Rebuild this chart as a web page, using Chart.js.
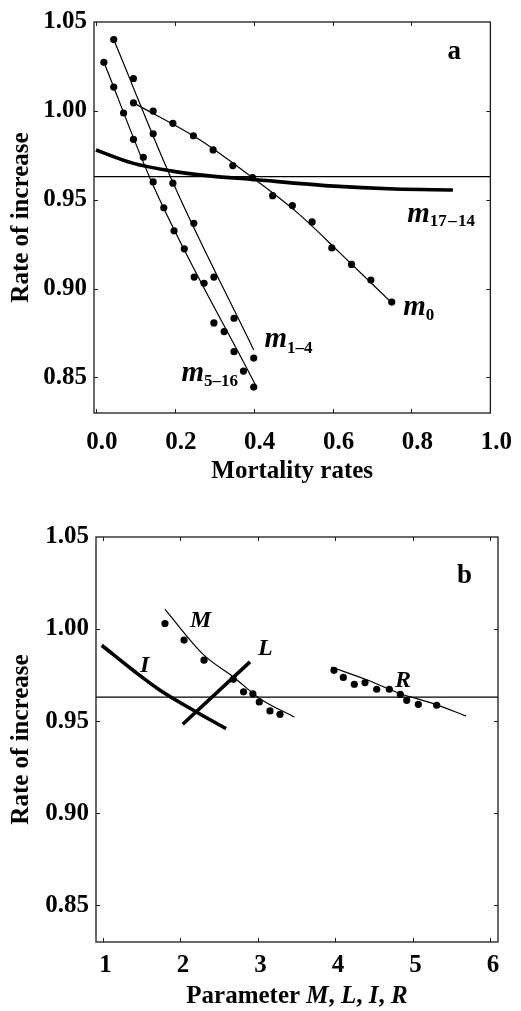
<!DOCTYPE html>
<html>
<head>
<meta charset="utf-8">
<script src="https://cdn.jsdelivr.net/npm/chart.js@4.4.0/dist/chart.umd.min.js"></script>
<style>
  body { margin: 0; background: #fff; }
  canvas { position: absolute; left: 0; }
  #chartA { top: 0; }
  #chartB { top: 490px; }
</style>
</head>
<body>
<canvas id="chartA" width="521" height="490"></canvas>
<canvas id="chartB" width="521" height="521"></canvas>
<script>
// Shared y axis
const rateTicks = [0.85, 0.90, 0.95, 1.00, 1.05];
const threshold = 0.963;

// Panel a: rate of increase vs mortality rates
const mortTicks = [0, 0.2, 0.4, 0.6, 0.8, 1.0];

const m516X = [0.020, 0.045, 0.070, 0.095, 0.120, 0.145, 0.172, 0.198, 0.224, 0.249, 0.274, 0.299, 0.325, 0.350, 0.374, 0.400];
const m516Y = [1.0273, 1.0134, 0.9988, 0.9840, 0.9739, 0.9600, 0.9455, 0.9325, 0.9224, 0.9065, 0.9030, 0.8807, 0.8758, 0.8645, 0.8536, 0.8446];
const m516FitX = [0.020, 0.1465, 0.405];
const m516FitY = [1.0275, 0.9573, 0.8455];

const m14X = [0.045, 0.095, 0.145, 0.195, 0.248, 0.299, 0.350, 0.400];
const m14Y = [1.0401, 1.0182, 0.9871, 0.9593, 0.9367, 0.9065, 0.8833, 0.8609];
const m14FitX = [0.045, 0.200, 0.400];
const m14FitY = [1.0401, 0.9573, 0.8655];

const m0X = [0.095, 0.145, 0.195, 0.247, 0.297, 0.347, 0.397, 0.448, 0.498, 0.548, 0.598, 0.648, 0.697, 0.750];
const m0Y = [1.0045, 0.9999, 0.9930, 0.9860, 0.9780, 0.9692, 0.9624, 0.9523, 0.9467, 0.9375, 0.9229, 0.9136, 0.9048, 0.8924];
const m0FitX = [0.095, 0.259, 0.397, 0.509, 0.617, 0.750];
const m0FitY = [1.0045, 0.9843, 0.9624, 0.9430, 0.9204, 0.8920];

const m1714X = [0, 0.093, 0.193, 0.293, 0.392, 0.592, 0.758, 0.905];
const m1714Y = [0.978, 0.9706, 0.9661, 0.9633, 0.9615, 0.9578, 0.9560, 0.9555];

// Panel b: rate of increase vs parameters M, L, I, R
const paramTicks = [1, 2, 3, 4, 5, 6];

const mX = [1.806, 2.052, 2.310, 2.688, 2.820, 2.940, 3.023, 3.161, 3.290];
const mY = [1.0030, 0.9940, 0.9831, 0.9727, 0.9659, 0.9648, 0.9604, 0.9555, 0.9537];
const mFitX = [1.806, 2.310, 2.688, 3.032, 3.475];
const mFitY = [1.0107, 0.9858, 0.9740, 0.9622, 0.9522];

const rX = [3.987, 4.107, 4.249, 4.387, 4.538, 4.701, 4.843, 4.925, 5.075, 5.312];
const rY = [0.9776, 0.9737, 0.9700, 0.9709, 0.9673, 0.9673, 0.9645, 0.9613, 0.9591, 0.9586];
const rFitX = [3.95, 4.40, 4.839, 5.268, 5.69];
const rFitY = [0.9794, 0.9726, 0.9650, 0.9595, 0.9528];

const iX = [0.99, 1.419, 1.742, 2.172, 2.594];
const iY = [0.9912, 0.9768, 0.9668, 0.9559, 0.9459];

const lX = [2.035, 2.903];
const lY = [0.9483, 0.9822];

const FAMILY = '"Liberation Serif", "Times New Roman", serif';
const B = n => `bold ${n}px ${FAMILY}`;
const BI = n => `italic bold ${n}px ${FAMILY}`;

const pts = (xs, ys) => xs.map((x, i) => ({ x, y: ys[i] }));

function dots(xs, ys) {
  return {
    data: pts(xs, ys), showLine: false,
    pointRadius: 3.6, pointBackgroundColor: '#000', pointBorderColor: '#000', pointBorderWidth: 0
  };
}

function curve(xs, ys, width) {
  return {
    data: pts(xs, ys), showLine: true, borderColor: '#000', borderWidth: width,
    pointRadius: 0, cubicInterpolationMode: 'monotone', borderCapStyle: 'butt'
  };
}

// frame, inward tick marks and the text labels inside the plot
const decor = {
  id: 'decor',
  afterDatasetsDraw(chart, args, opts) {
    const { ctx, chartArea: a, scales: { x, y } } = chart;
    ctx.save();
    ctx.strokeStyle = '#1a1a1a';
    ctx.lineWidth = 1.3;
    ctx.strokeRect(a.left, a.top, a.right - a.left, a.bottom - a.top);

    ctx.lineWidth = 1;
    ctx.beginPath();
    x.ticks.forEach(t => {
      const px = Math.round(x.getPixelForValue(t.value)) + 0.5;
      if (px <= a.left + 2 || px >= a.right - 2) return;
      ctx.moveTo(px, a.bottom); ctx.lineTo(px, a.bottom - 4);
      ctx.moveTo(px, a.top); ctx.lineTo(px, a.top + 4);
    });
    y.ticks.forEach(t => {
      const py = Math.round(y.getPixelForValue(t.value)) + 0.5;
      if (py <= a.top + 2 || py >= a.bottom - 2) return;
      ctx.moveTo(a.left, py); ctx.lineTo(a.left + 4, py);
      ctx.moveTo(a.right, py); ctx.lineTo(a.right - 4, py);
    });
    ctx.stroke();

    ctx.fillStyle = '#000';
    ctx.textBaseline = 'alphabetic';
    ctx.textAlign = 'left';
    (opts.notes || []).forEach(n => {
      let px = x.getPixelForValue(n.x);
      const py = y.getPixelForValue(n.y);
      n.parts.forEach(([text, font, dy]) => {
        ctx.font = font;
        ctx.fillText(text, px, py + (dy || 0));
        px += ctx.measureText(text).width;
      });
    });

    if (opts.title) {
      let total = 0;
      opts.title.parts.forEach(([text, font]) => { ctx.font = font; total += ctx.measureText(text).width; });
      let px = (a.left + a.right) / 2 - total / 2;
      opts.title.parts.forEach(([text, font]) => {
        ctx.font = font;
        ctx.fillText(text, px, opts.title.baseline);
        px += ctx.measureText(text).width;
      });
    }
    ctx.restore();
  }
};

function rateAxis(width) {
  return {
    min: 0.83, max: 1.05,
    afterBuildTicks: s => { s.ticks = rateTicks.map(v => ({ value: v })); },
    afterFit: s => { s.width = width; },
    grid: { display: false, drawTicks: false },
    border: { display: false },
    ticks: {
      padding: 7, color: '#000',
      font: { family: FAMILY, size: 25, weight: 'bold' },
      callback: v => v.toFixed(2)
    },
    title: {
      display: true, text: 'Rate of increase', color: '#000',
      font: { family: FAMILY, size: 25, weight: 'bold' },
      padding: { top: 7, bottom: 0 }
    }
  };
}

const baseOptions = {
  responsive: false,
  animation: false,
  plugins: { legend: { display: false }, tooltip: { enabled: false } }
};

// Panel a
new Chart(document.getElementById('chartA').getContext('2d'), {
  type: 'scatter',
  data: {
    datasets: [
      curve([-0.005, 1.0], [threshold, threshold], 1.2),
      curve(m1714X, m1714Y, 3.6),
      curve(m516FitX, m516FitY, 1.2),
      dots(m516X, m516Y),
      curve(m14FitX, m14FitY, 1.2),
      dots(m14X, m14Y),
      curve(m0FitX, m0FitY, 1.2),
      dots(m0X, m0Y)
    ]
  },
  options: {
    ...baseOptions,
    layout: { padding: { top: 12, right: 24, left: 0, bottom: 0 } },
    scales: {
      x: {
        type: 'linear', min: -0.005, max: 1.0,
        afterBuildTicks: s => { s.ticks = mortTicks.map(v => ({ value: v })); },
        afterFit: s => { s.height = 77; },
        grid: { display: false, drawTicks: false },
        border: { display: false },
        ticks: {
          padding: 15, labelOffset: 6, maxRotation: 0, color: '#000',
          font: { family: FAMILY, size: 25, weight: 'bold' },
          callback: v => v.toFixed(1)
        },
        title: {
          display: true, text: 'Mortality rates', color: '#000',
          font: { family: FAMILY, size: 25, weight: 'bold' },
          padding: { top: 0, bottom: 3 }
        }
      },
      y: rateAxis(94)
    },
    plugins: {
      ...baseOptions.plugins,
      decor: {
        notes: [
          { x: 0.891, y: 1.0292, parts: [['a', B(27)]] },
          { x: 0.789, y: 0.9375, parts: [['m', BI(29)], ['17\u200A\u2013\u200A14', B(17), 4]] },
          { x: 0.779, y: 0.8854, parts: [['m', BI(29)], ['0', B(17), 5]] },
          { x: 0.427, y: 0.8673, parts: [['m', BI(29)], ['1\u20134', B(17), 6]] },
          { x: 0.217, y: 0.8481, parts: [['m', BI(29)], ['5\u201316', B(17), 5]] }
        ]
      }
    }
  },
  plugins: [decor]
});

// Panel b
new Chart(document.getElementById('chartB').getContext('2d'), {
  type: 'scatter',
  data: {
    datasets: [
      curve([0.916, 6.103], [threshold, threshold], 1.2),
      curve(iX, iY, 3.6),
      curve(lX, lY, 3.6),
      curve(mFitX, mFitY, 1.2),
      dots(mX, mY),
      curve(rFitX, rFitY, 1.2),
      dots(rX, rY)
    ]
  },
  options: {
    ...baseOptions,
    layout: { padding: { top: 47, right: 23, left: 0, bottom: 0 } },
    scales: {
      x: {
        type: 'linear', min: 0.916, max: 6.103,
        afterBuildTicks: s => { s.ticks = paramTicks.map(v => ({ value: v })); },
        afterFit: s => { s.height = 69; },
        grid: { display: false, drawTicks: false },
        border: { display: false },
        ticks: {
          padding: 9, labelOffset: 3, maxRotation: 0, color: '#000',
          font: { family: FAMILY, size: 25, weight: 'bold' },
          callback: v => String(v)
        }
      },
      y: rateAxis(96)
    },
    plugins: {
      ...baseOptions.plugins,
      decor: {
        notes: [
          { x: 5.574, y: 1.025, parts: [['b', B(27)]] },
          { x: 2.129, y: 1.001, parts: [['M', BI(24)]] },
          { x: 1.484, y: 0.9765, parts: [['I', BI(24)]] },
          { x: 3.006, y: 0.9858, parts: [['L', BI(24)]] },
          { x: 4.774, y: 0.9684, parts: [['R', BI(24)]] }
        ],
        title: {
          baseline: 513,
          parts: [['Parameter ', B(25)], ['M', BI(25)], [', ', B(25)], ['L', BI(25)], [', ', B(25)],
                  ['I', BI(25)], [', ', B(25)], ['R', BI(25)]]
        }
      }
    }
  },
  plugins: [decor]
});
</script>
</body>
</html>
